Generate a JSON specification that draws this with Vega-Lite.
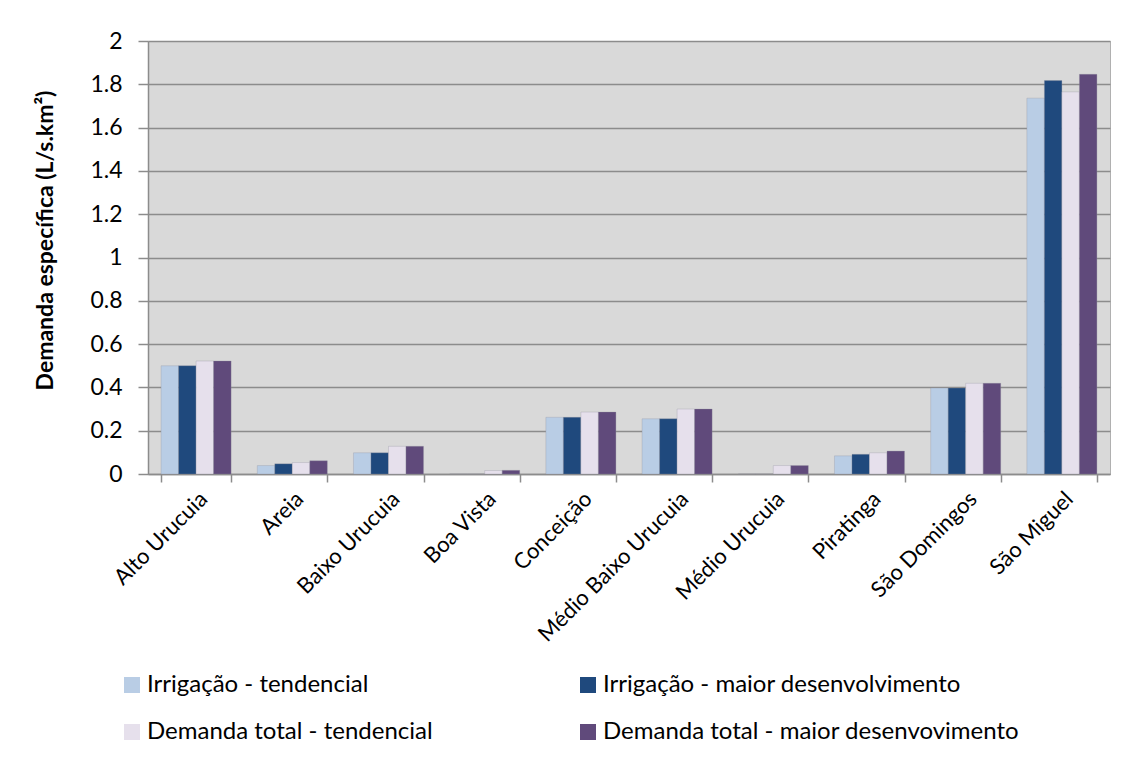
{
  "$schema": "https://vega.github.io/schema/vega-lite/v6.json",
  "width": 962,
  "height": 433,
  "autosize": {"type": "none"},
  "padding": {"left": 148, "top": 41, "right": 22, "bottom": 291},
  "background": "white",
  "config": {
    "font": "Lato",
    "view": {"fill": "#d9d9d9", "stroke": "#b0b0b0", "strokeWidth": 1}
  },
  "data": {
    "values": [
      {"sub": "Alto Urucuia", "serie": "Irrigação - tendencial", "v": 0.50},
      {"sub": "Alto Urucuia", "serie": "Irrigação - maior desenvolvimento", "v": 0.50},
      {"sub": "Alto Urucuia", "serie": "Demanda total - tendencial", "v": 0.522},
      {"sub": "Alto Urucuia", "serie": "Demanda total - maior desenvovimento", "v": 0.522},
      {"sub": "Areia", "serie": "Irrigação - tendencial", "v": 0.039},
      {"sub": "Areia", "serie": "Irrigação - maior desenvolvimento", "v": 0.047},
      {"sub": "Areia", "serie": "Demanda total - tendencial", "v": 0.053},
      {"sub": "Areia", "serie": "Demanda total - maior desenvovimento", "v": 0.061},
      {"sub": "Baixo Urucuia", "serie": "Irrigação - tendencial", "v": 0.098},
      {"sub": "Baixo Urucuia", "serie": "Irrigação - maior desenvolvimento", "v": 0.098},
      {"sub": "Baixo Urucuia", "serie": "Demanda total - tendencial", "v": 0.128},
      {"sub": "Baixo Urucuia", "serie": "Demanda total - maior desenvovimento", "v": 0.128},
      {"sub": "Boa Vista", "serie": "Irrigação - tendencial", "v": 0},
      {"sub": "Boa Vista", "serie": "Irrigação - maior desenvolvimento", "v": 0},
      {"sub": "Boa Vista", "serie": "Demanda total - tendencial", "v": 0.016},
      {"sub": "Boa Vista", "serie": "Demanda total - maior desenvovimento", "v": 0.017},
      {"sub": "Conceição", "serie": "Irrigação - tendencial", "v": 0.262},
      {"sub": "Conceição", "serie": "Irrigação - maior desenvolvimento", "v": 0.262},
      {"sub": "Conceição", "serie": "Demanda total - tendencial", "v": 0.286},
      {"sub": "Conceição", "serie": "Demanda total - maior desenvovimento", "v": 0.286},
      {"sub": "Médio Baixo Urucuia", "serie": "Irrigação - tendencial", "v": 0.255},
      {"sub": "Médio Baixo Urucuia", "serie": "Irrigação - maior desenvolvimento", "v": 0.255},
      {"sub": "Médio Baixo Urucuia", "serie": "Demanda total - tendencial", "v": 0.30},
      {"sub": "Médio Baixo Urucuia", "serie": "Demanda total - maior desenvovimento", "v": 0.30},
      {"sub": "Médio Urucuia", "serie": "Irrigação - tendencial", "v": 0},
      {"sub": "Médio Urucuia", "serie": "Irrigação - maior desenvolvimento", "v": 0},
      {"sub": "Médio Urucuia", "serie": "Demanda total - tendencial", "v": 0.039},
      {"sub": "Médio Urucuia", "serie": "Demanda total - maior desenvovimento", "v": 0.039},
      {"sub": "Piratinga", "serie": "Irrigação - tendencial", "v": 0.084},
      {"sub": "Piratinga", "serie": "Irrigação - maior desenvolvimento", "v": 0.091},
      {"sub": "Piratinga", "serie": "Demanda total - tendencial", "v": 0.098},
      {"sub": "Piratinga", "serie": "Demanda total - maior desenvovimento", "v": 0.106},
      {"sub": "São Domingos", "serie": "Irrigação - tendencial", "v": 0.397},
      {"sub": "São Domingos", "serie": "Irrigação - maior desenvolvimento", "v": 0.397},
      {"sub": "São Domingos", "serie": "Demanda total - tendencial", "v": 0.419},
      {"sub": "São Domingos", "serie": "Demanda total - maior desenvovimento", "v": 0.419},
      {"sub": "São Miguel", "serie": "Irrigação - tendencial", "v": 1.736},
      {"sub": "São Miguel", "serie": "Irrigação - maior desenvolvimento", "v": 1.817},
      {"sub": "São Miguel", "serie": "Demanda total - tendencial", "v": 1.765},
      {"sub": "São Miguel", "serie": "Demanda total - maior desenvovimento", "v": 1.846}
    ]
  },
  "mark": {"type": "bar", "stroke": "#8f8f9f", "strokeWidth": 0.5, "strokeOpacity": 0.6},
  "encoding": {
    "x": {
      "field": "sub",
      "type": "nominal",
      "sort": null,
      "scale": {"paddingInner": 0.272, "paddingOuter": 0.136},
      "axis": {
        "title": null,
        "labelAngle": -45,
        "labelFontSize": 22,
        "labelColor": "#000000",
        "labelPadding": 6,
        "labelLimit": 400,
        "tickBand": "extent",
        "tickSize": 8,
        "tickColor": "#8c8c8c",
        "tickWidth": 1.5,
        "domainColor": "#8c8c8c",
        "domainWidth": 1.5,
        "grid": false
      }
    },
    "xOffset": {
      "field": "serie",
      "type": "nominal",
      "sort": null
    },
    "y": {
      "field": "v",
      "type": "quantitative",
      "scale": {"domain": [0, 2], "nice": false},
      "axis": {
        "title": "Demanda específica (L/s.km²)",
        "titleFontSize": 23,
        "titleFontWeight": "bold",
        "titleColor": "#000000",
        "titleX": -103,
        "titleY": 199,
        "titleAlign": "center",
        "titleBaseline": "middle",
        "values": [0, 0.2, 0.4, 0.6, 0.8, 1, 1.2, 1.4, 1.6, 1.8, 2],
        "labelExpr": "datum.value == 0 ? '0' : datum.value == 1 ? '1' : datum.value == 2 ? '2' : format(datum.value, '.1f')",
        "labelFontSize": 23,
        "labelColor": "#000000",
        "labelPadding": 16,
        "tickSize": 10,
        "tickColor": "#8c8c8c",
        "tickWidth": 1.5,
        "domainColor": "#8c8c8c",
        "domainWidth": 1.5,
        "grid": true,
        "gridColor": "#8c8c8c",
        "gridWidth": 1.5
      }
    },
    "color": {
      "field": "serie",
      "type": "nominal",
      "sort": null,
      "scale": {
        "domain": ["Irrigação - tendencial", "Irrigação - maior desenvolvimento", "Demanda total - tendencial", "Demanda total - maior desenvovimento"],
        "range": ["#b9cde5", "#1f497d", "#e6e0ec", "#604a7b"]
      },
      "legend": {
        "title": null,
        "orient": "none",
        "legendX": -28,
        "legendY": 632,
        "columns": 2,
        "direction": "horizontal",
        "symbolType": "square",
        "symbolSize": 256,
        "symbolStrokeWidth": 0,
        "labelFontSize": 24,
        "labelColor": "#000000",
        "labelOffset": 3,
        "labelLimit": 600,
        "rowPadding": 23,
        "columnPadding": 143
      }
    }
  }
}
